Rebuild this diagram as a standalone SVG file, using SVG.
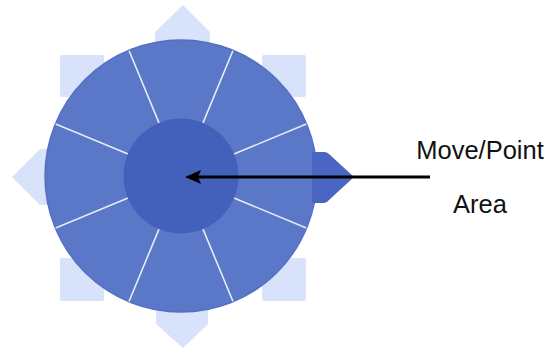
<svg xmlns="http://www.w3.org/2000/svg" width="548" height="349" viewBox="0 0 548 349">
<style>
.petal{fill:#d9e2fb}
.spoke{stroke:#e6ebf7;stroke-width:1.6;stroke-linecap:round}
.lbl{font-family:"Liberation Sans",Arial,sans-serif;font-size:25.5px;fill:#111}
</style>
<rect width="548" height="349" fill="#fff"/>
<g id="petals">
<polygon class="petal" points="183,5 210,32 210,70 155,70 155,32"/>
<polygon class="petal" points="183,348 208,324 208,290 156,290 156,324"/>
<polygon class="petal" points="12,177 40,149 70,149 70,205 40,205"/>
<rect class="petal" x="60" y="55" width="44" height="42" rx="2"/>
<rect class="petal" x="262" y="55" width="44" height="42" rx="2"/>
<rect class="petal" x="60" y="258" width="44" height="43" rx="2"/>
<rect class="petal" x="262" y="258" width="44" height="43" rx="2"/>
</g>
<g id="outer-ring">
<circle cx="181" cy="176" r="136" fill="#5b77c7" stroke="#5470c4" stroke-width="1.5"/>
</g>
<g id="right-petal">
<path d="M312,152 H324 Q327,152 329,154 L354,177 L329,200 Q327,203 324,203 H312 Z" fill="#4a66c2"/>
</g>
<g id="spokes">
<line class="spoke" x1="234.6" y1="198.2" x2="305.7" y2="227.7"/>
<line class="spoke" x1="234.6" y1="153.8" x2="305.7" y2="124.3"/>
<line class="spoke" x1="127.4" y1="198.2" x2="56.3" y2="227.7"/>
<line class="spoke" x1="127.4" y1="153.8" x2="56.3" y2="124.3"/>
<line class="spoke" x1="203.2" y1="229.6" x2="232.7" y2="300.7"/>
<line class="spoke" x1="203.2" y1="122.4" x2="232.7" y2="51.3"/>
<line class="spoke" x1="158.8" y1="229.6" x2="129.3" y2="300.7"/>
<line class="spoke" x1="158.8" y1="122.4" x2="129.3" y2="51.3"/>
</g>
<g id="move-point-area">
<circle cx="181" cy="176" r="57.5" fill="#4361bb"/>
</g>
<g id="connectors">
<line x1="197" y1="177" x2="430" y2="177" stroke="#000" stroke-width="3"/>
<polygon points="185,177 201,170 198,177 201,184" fill="#000"/>
</g>
<g id="label">
<text class="lbl" x="480" y="159" text-anchor="middle">Move/Point</text>
<text class="lbl" x="480" y="213" text-anchor="middle">Area</text>
</g>
</svg>
